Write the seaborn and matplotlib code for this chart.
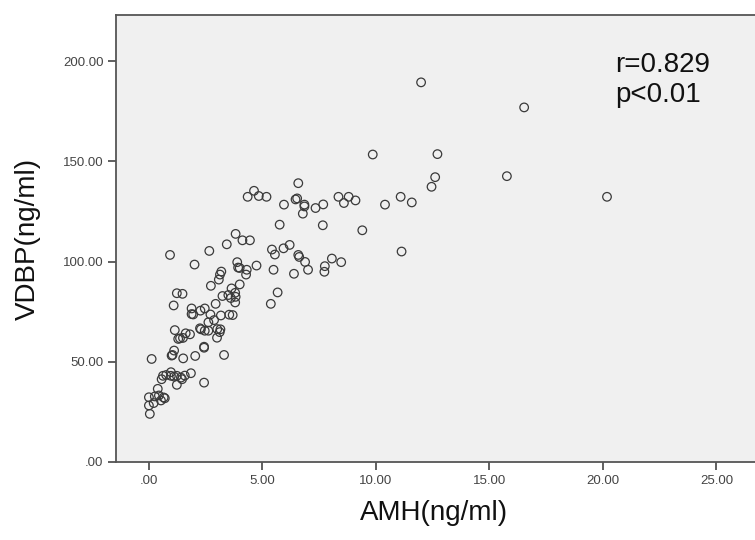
import matplotlib
matplotlib.use("Agg")
import matplotlib.pyplot as plt
from matplotlib.ticker import FuncFormatter
import seaborn as sns
import pandas as pd

# valores (AMH en x, VDBP en y)
amh = [11.99, 16.53, 9.86, 12.71, 15.77, 12.61, 12.45, 20.18, 6.58, 4.63,
       4.35, 4.84, 5.18, 6.46, 6.53, 5.95, 6.85, 6.85, 6.78, 7.34,
       7.68, 8.35, 8.59, 8.80, 9.10, 10.40, 11.09, 11.58, 5.76, 7.66,
       9.40, 11.13, 3.82, 3.43, 4.12, 4.45, 2.66, 0.93, 2.01, 5.42,
       5.55, 5.93, 6.20, 6.58, 6.62, 6.88, 7.01, 8.06, 7.75, 7.73,
       8.47, 5.49, 6.39, 4.74, 3.89, 3.93, 4.00, 4.31, 4.28, 3.19,
       3.13, 3.08, 2.73, 4.00, 3.64, 3.80, 3.50, 3.61, 3.82, 3.80,
       3.24, 2.94, 5.67, 5.37, 1.23, 1.48, 1.09, 1.88, 2.46, 1.88,
       2.27, 2.71, 3.17, 3.54, 2.62, 2.87, 2.29, 2.46, 2.62, 3.01,
       3.15, 3.12, 3.00, 1.14, 1.29, 1.50, 1.62, 1.81, 2.43, 2.43,
       1.11, 1.00, 1.51, 2.04, 3.31, 0.12, 0.62, 0.76, 0.97, 0.97,
       1.11, 1.23, 1.41, 1.58, 1.85, 0.56, 1.46, 1.23, 2.43, 0.39,
       0.00, 0.26, 0.44, 0.65, 0.53, 0.21, 0.00, 0.04, 3.69, 2.25,
       1.37, 1.04, 0.70, 1.95]
vdbp = [189.4, 176.9, 153.4, 153.6, 142.6, 142.1, 137.3, 132.3, 139.1, 135.3,
        132.3, 132.7, 132.3, 131.0, 131.5, 128.4, 128.4, 127.5, 123.9, 126.7,
        128.5, 132.3, 129.2, 132.3, 130.5, 128.4, 132.3, 129.5, 118.4, 118.1,
        115.6, 105.0, 113.8, 108.6, 110.6, 110.6, 105.3, 103.3, 98.5, 106.0,
        103.5, 106.6, 108.3, 103.3, 102.3, 99.8, 95.9, 101.5, 97.7, 94.9,
        99.7, 95.9, 93.9, 98.0, 99.7, 97.0, 96.8, 95.9, 93.5, 95.0,
        93.5, 91.0, 87.9, 88.6, 86.6, 84.4, 83.3, 81.8, 82.4, 79.6,
        82.8, 78.9, 84.6, 78.9, 84.2, 83.9, 78.1, 76.6, 76.6, 73.8,
        75.5, 73.6, 73.1, 73.5, 69.7, 70.8, 66.2, 65.5, 65.5, 66.3,
        66.2, 64.8, 62.0, 65.8, 61.4, 61.9, 64.2, 63.7, 57.5, 57.0,
        55.6, 53.1, 51.7, 52.9, 53.4, 51.4, 43.0, 43.4, 44.8, 43.0,
        42.6, 43.0, 42.1, 43.1, 44.3, 41.3, 41.3, 38.5, 39.6, 36.5,
        32.3, 32.7, 33.2, 32.2, 30.7, 29.4, 28.2, 24.0, 73.3, 66.7,
        61.7, 53.4, 31.8, 73.6]

x_ticks = [0, 5, 10, 15, 20, 25]
y_ticks = [0, 50, 100, 150, 200]
etiqueta_x = "AMH(ng/ml)"
etiqueta_y = "VDBP(ng/ml)"
texto_r = "r=0.829"
texto_p = "p<0.01"

df = pd.DataFrame({"AMH": amh, "VDBP": vdbp})

sns.set_style("white")
plt.rcParams["font.family"] = ["Liberation Sans", "DejaVu Sans"]

fig = plt.figure(figsize=(7.55, 5.4), dpi=100)
ax = fig.add_axes([116 / 755, 78 / 540, 1 - 116 / 755, 447 / 540])
ax.set_facecolor("#f0f0f0")

sns.scatterplot(data=df, x="AMH", y="VDBP", ax=ax, marker="o", s=38,
                facecolor="none", edgecolor="#3a3a3a", linewidth=0.9)

ax.set_xlim(-1.45, 26.7)
ax.set_ylim(0, 223)
ax.set_xticks(x_ticks)
ax.set_yticks(y_ticks)


def formato(v, pos):
    s = f"{v:.2f}"
    if s.startswith("0"):
        s = s[1:]
    return s


ax.xaxis.set_major_formatter(FuncFormatter(formato))
ax.yaxis.set_major_formatter(FuncFormatter(formato))
ax.tick_params(bottom=True, left=True, direction="out", length=6, width=1.2,
               color="#444444", labelsize=9.5, labelcolor="#444444", pad=3)

for lado in ["left", "bottom", "top"]:
    ax.spines[lado].set_color("#555555")
    ax.spines[lado].set_linewidth(1.3)
ax.spines["right"].set_visible(False)

ax.set_xlabel(etiqueta_x, fontsize=20, color="#111111")
ax.set_ylabel(etiqueta_y, fontsize=20, color="#111111")
ax.xaxis.set_label_coords(0.498, -0.085)
ax.yaxis.set_label_coords(-0.118, 0.5)

ax.text(0.781, 0.872, texto_r, transform=ax.transAxes, fontsize=20,
        va="baseline", ha="left", color="#111111")
ax.text(0.781, 0.805, texto_p, transform=ax.transAxes, fontsize=20,
        va="baseline", ha="left", color="#111111")

fig.savefig("out.png", dpi=100)
